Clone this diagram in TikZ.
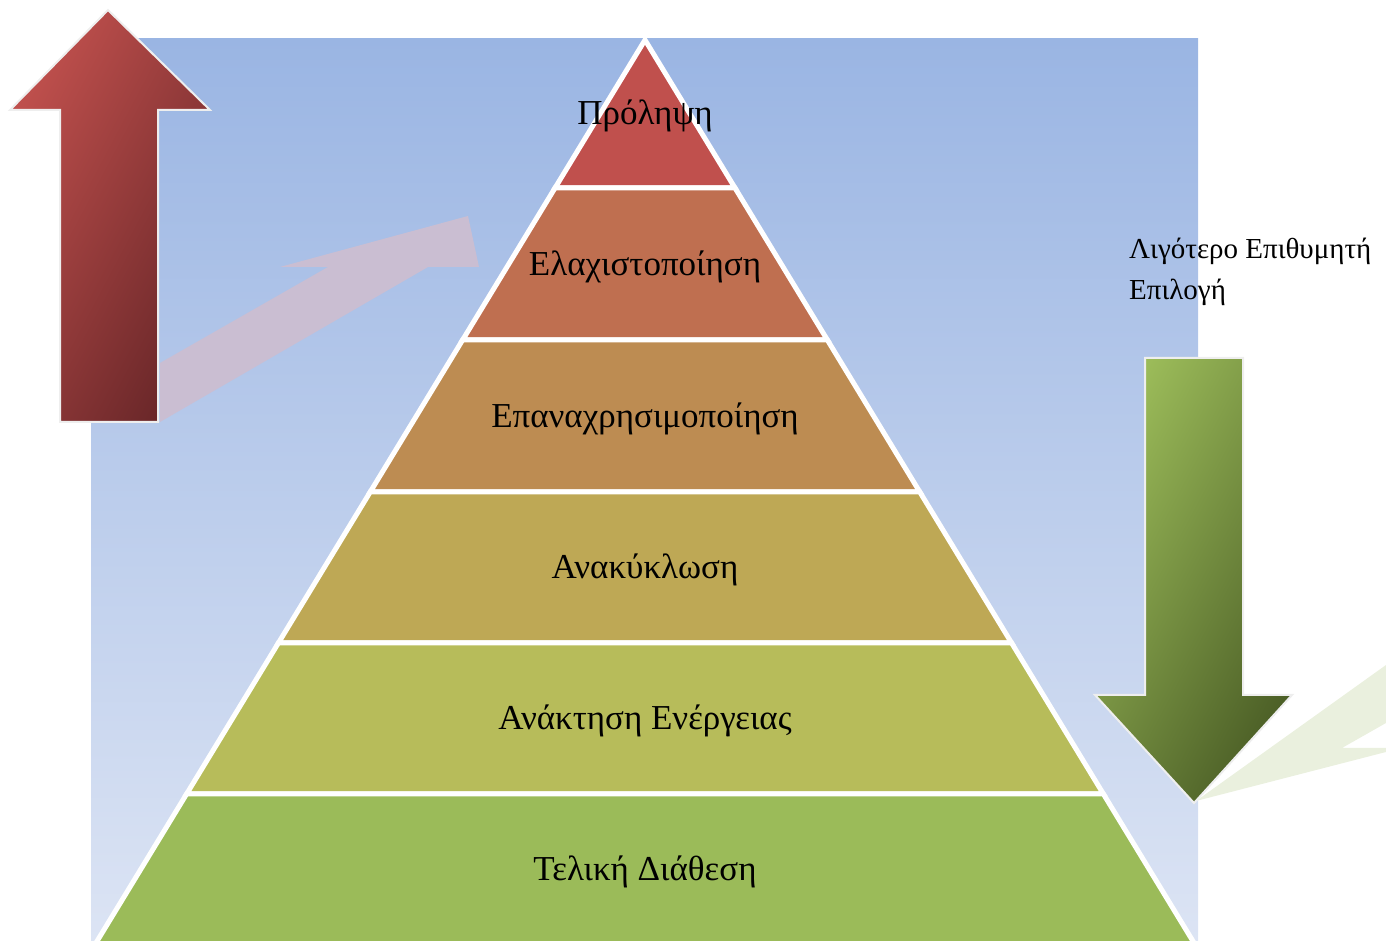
\documentclass[tikz,border=0pt]{standalone}
\usepackage{fontspec}
\setmainfont{Liberation Serif}
\definecolor{bgtop}{HTML}{9AB5E3}
\definecolor{bgbot}{HTML}{DCE4F4}
\definecolor{bandA}{HTML}{C0504D}
\definecolor{bandB}{HTML}{BF6F50}
\definecolor{bandC}{HTML}{BD8C52}
\definecolor{bandD}{HTML}{BEA855}
\definecolor{bandE}{HTML}{B7BC5A}
\definecolor{bandF}{HTML}{9BBB59}
\definecolor{redlight}{HTML}{C0504D}
\definecolor{reddark}{HTML}{6A2729}
\definecolor{greenlight}{HTML}{9BBB59}
\definecolor{greendark}{HTML}{4B5E26}
\definecolor{pinkghost}{HTML}{CABED2}
\definecolor{greenghost}{HTML}{EAF0DE}
\definecolor{arrowrim}{HTML}{EEEEEE}
\tikzset{
  band/.style={draw=white, line width=5pt, line join=miter},
  bandlabel/.style={anchor=base, inner sep=0pt, font=\fontsize{35}{42}\selectfont},
  sidelabel/.style={anchor=base west, inner sep=0pt, font=\fontsize{29}{41}\selectfont},
  bigarrow/.style={draw=arrowrim, line width=2pt, line join=miter},
}
\begin{document}
\begin{tikzpicture}[x=1pt,y=1pt]
\useasboundingbox (0,0) rectangle (1386,941);
\clip (0,0) rectangle (1386,941);
% background
\shade[top color=bgtop, bottom color=bgbot] (91,0) rectangle (1198,902);
% ghost arrows
\fill[pinkghost] (160,578) -- (328,674) -- (280,674) -- (468,725) -- (479,674) -- (428,674) -- (160,519) -- cycle;
\fill[greenghost] (1196,140) -- (1386,276) -- (1386,218) -- (1342,193) -- (1386,193) -- (1386,189) -- cycle;
% pyramid bands
\fill[bandA, band] (645,901) -- (735,753) -- (555,753) -- cycle;
\fill[bandB, band] (555,753) -- (735,753) -- (827.4,601) -- (462.6,601) -- cycle;
\fill[bandC, band] (462.6,601) -- (827.4,601) -- (919.8,449) -- (370.2,449) -- cycle;
\fill[bandD, band] (370.2,449) -- (919.8,449) -- (1011.6,298) -- (278.4,298) -- cycle;
\fill[bandE, band] (278.4,298) -- (1011.6,298) -- (1103.4,147) -- (186.6,147) -- cycle;
\fill[bandF, band] (186.6,147) -- (1103.4,147) -- (1204.4,-19) -- (85.6,-19) -- cycle;
% labels
\node[bandlabel] (l1) at (645,816) {Πρόληψη};
\node[bandlabel] (l2) at (645,665) {Ελαχιστοποίηση};
\node[bandlabel] (l3) at (645,513) {Επαναχρησιμοποίηση};
\node[bandlabel] (l4) at (645,362) {Ανακύκλωση};
\node[bandlabel] (l5) at (645,211) {Ανάκτηση Ενέργειας};
\node[bandlabel] (l6) at (645,60) {Τελική Διάθεση};
% red up arrow
\shade[bigarrow, top color=redlight, bottom color=reddark, shading angle=62]
  (108,931) -- (210,831) -- (158,831) -- (158,519) -- (60,519) -- (60,831) -- (10,831) -- cycle;
% green down arrow
\shade[bigarrow, top color=greenlight, bottom color=greendark, shading angle=62]
  (1145,583) -- (1243,583) -- (1243,246) -- (1292,246) -- (1194,138) -- (1095,246) -- (1145,246) -- cycle;
% side text
\node[sidelabel] (s1) at (1129,682) {Λιγότερο Επιθυμητή};
\node[sidelabel] (s2) at (1129,641) {Επιλογή};
\end{tikzpicture}
\end{document}
